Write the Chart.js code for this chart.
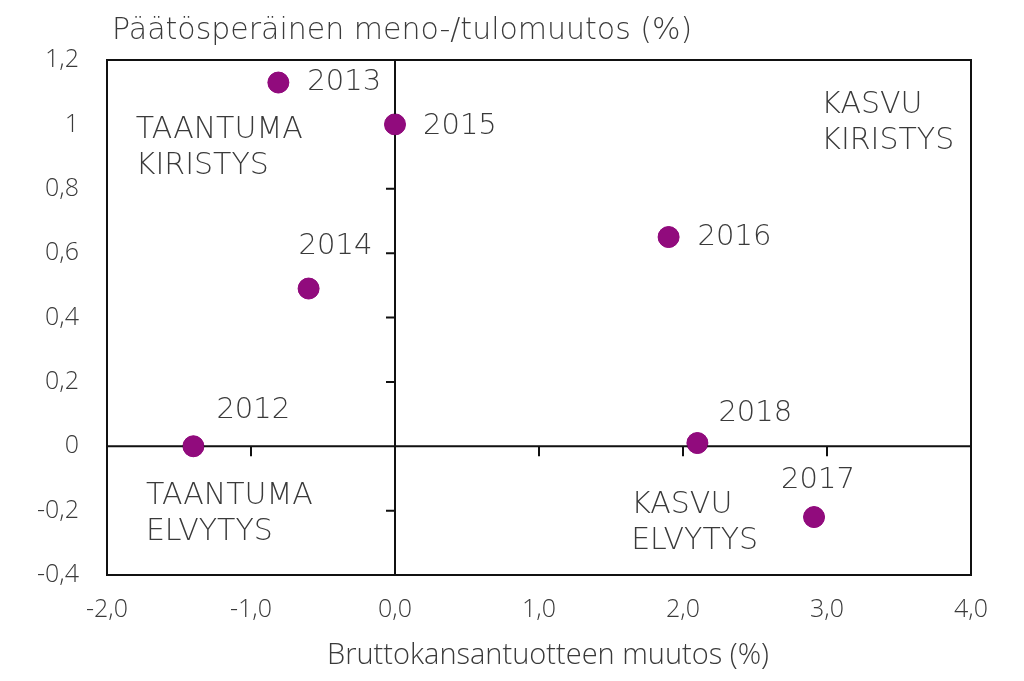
<!DOCTYPE html>
<html>
<head>
<meta charset="utf-8">
<script src="https://cdn.jsdelivr.net/npm/chart.js@4/dist/chart.umd.min.js"></script>
<style>
  html, body { margin: 0; padding: 0; background: #fff; }
  #wrap { width: 1024px; height: 681px; }
</style>
</head>
<body>
<div id="wrap"><canvas id="chart"></canvas></div>
<script>
// Data
const years = ['2012', '2013', '2014', '2015', '2016', '2017', '2018'];
const gdpChange = [-1.4, -0.81, -0.6, 0.0, 1.9, 2.91, 2.1];
const fiscalChange = [0.0, 1.13, 0.49, 1.0, 0.65, -0.22, 0.01];
const xTicks = [-2, -1, 0, 1, 2, 3, 4];
const yTicks = [-0.4, -0.2, 0, 0.2, 0.4, 0.6, 0.8, 1, 1.2];
const quadrantNames = [['TAANTUMA', 'KIRISTYS'], ['KASVU', 'KIRISTYS'], ['TAANTUMA', 'ELVYTYS'], ['KASVU', 'ELVYTYS']];

const FONT = '"Open Sans", "Noto Sans", sans-serif';
const WIDE = '"DejaVu Sans", sans-serif';
const TEXT = '#3a3a3a';
const MARK = '#910b7d';

// label offsets in pixels relative to each point (dx = left edge, dy = text centre)
const labelOffsets = [[23, -36], [29, 0], [-10, -42], [28, 2], [29, 0], [-33, -37], [21, -30]];
// quadrant label anchors (data coords, centre of first line)
const quadrantAt = [[-1.8, 0.981], [2.96, 1.059], [-1.73, -0.155], [1.64, -0.183]];

const fmt = v => {
    const r = Math.round(v * 10) / 10;
    return String(r).replace('.', ',');
};

const decor = {
    id: 'decor',
    afterDatasetsDraw(chart) {
        const ctx = chart.ctx;
        const xs = chart.scales.x, ys = chart.scales.y;
        const a = chart.chartArea;
        const x0 = xs.getPixelForValue(0), y0 = ys.getPixelForValue(0);
        ctx.save();
        ctx.strokeStyle = '#111';
        ctx.lineWidth = 2;
        ctx.strokeRect(a.left, a.top, a.right - a.left, a.bottom - a.top);
        ctx.beginPath();
        ctx.moveTo(a.left, y0); ctx.lineTo(a.right, y0);
        ctx.moveTo(x0, a.top); ctx.lineTo(x0, a.bottom);
        // tick marks on the zero lines
        xTicks.forEach(t => {
            if (t === 0 || t === xTicks[0] || t === xTicks[xTicks.length - 1]) return;
            const px = xs.getPixelForValue(t);
            ctx.moveTo(px, y0); ctx.lineTo(px, y0 + 10);
        });
        yTicks.forEach(t => {
            if (Math.abs(t) < 1e-9 || t === yTicks[0] || t === yTicks[yTicks.length - 1]) return;
            const py = ys.getPixelForValue(t);
            ctx.moveTo(x0, py); ctx.lineTo(x0 - 9, py);
        });
        ctx.stroke();

        // redraw points over lines
        const meta = chart.getDatasetMeta(0);
        ctx.fillStyle = MARK;
        meta.data.forEach(p => {
            ctx.beginPath(); ctx.arc(p.x, p.y, 10.5, 0, Math.PI * 2); ctx.fill();
        });

        // point labels
        ctx.fillStyle = TEXT;
        ctx.font = '200 29px ' + WIDE;
        ctx.textBaseline = 'middle';
        ctx.textAlign = 'left';
        meta.data.forEach((p, i) => {
            ctx.fillText(years[i], p.x + labelOffsets[i][0], p.y + labelOffsets[i][1]);
        });

        // quadrant labels
        ctx.font = '200 30px ' + WIDE;
        quadrantNames.forEach((lines, i) => {
            const px = xs.getPixelForValue(quadrantAt[i][0]);
            const py = ys.getPixelForValue(quadrantAt[i][1]);
            lines.forEach((s, j) => ctx.fillText(s, px, py + j * 36));
        });

        // axis titles
        ctx.font = '200 30px ' + WIDE;
        ctx.fillText('Päätösperäinen meno-/tulomuutos (%)', 112, 31);
        ctx.textAlign = 'center';
        ctx.font = '300 29px ' + FONT;
        ctx.fillText('Bruttokansantuotteen muutos (%)', 548, 656);
        ctx.restore();
    }
};

new Chart(document.getElementById('chart'), {
    type: 'scatter',
    data: {
        datasets: [{
            data: gdpChange.map((x, i) => ({ x: x, y: fiscalChange[i] })),
            backgroundColor: MARK,
            borderColor: MARK,
            pointRadius: 10.5,
            pointHoverRadius: 10.5
        }]
    },
    options: {
        responsive: true,
        maintainAspectRatio: false,
        animation: false,
        layout: { padding: { left: 0, top: 60, right: 53, bottom: 0 } },
        plugins: { legend: { display: false }, tooltip: { enabled: false } },
        scales: {
            x: {
                type: 'linear',
                min: -2, max: 4,
                afterFit: s => { s.height = 106; },
                afterBuildTicks: s => { s.ticks = xTicks.map(v => ({ value: v })); },
                grid: { display: false, drawTicks: false },
                border: { display: false },
                ticks: {
                    padding: 20,
                    color: TEXT,
                    font: { family: FONT, size: 25, weight: 300 },
                    callback: v => (Math.round(v * 10) / 10).toFixed(1).replace('.', ',')
                }
            },
            y: {
                type: 'linear',
                min: -0.4, max: 1.2,
                afterFit: s => { s.width = 107; },
                afterBuildTicks: s => { s.ticks = yTicks.map(v => ({ value: v })); },
                grid: { display: false, drawTicks: false },
                border: { display: false },
                ticks: {
                    padding: 28,
                    color: TEXT,
                    font: { family: FONT, size: 25, weight: 300 },
                    callback: v => fmt(v)
                }
            }
        }
    },
    plugins: [decor]
});
</script>
</body>
</html>
